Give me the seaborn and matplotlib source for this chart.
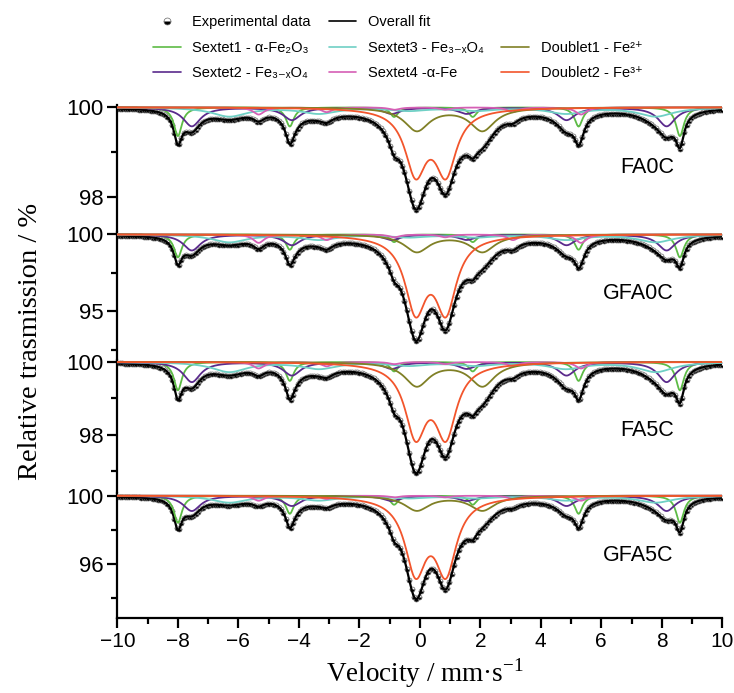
import numpy as np
import pandas as pd
import seaborn as sns
import matplotlib.pyplot as plt
from matplotlib.lines import Line2D
from matplotlib.ticker import MultipleLocator

# samples, top to bottom
samples = ["FA0C", "GFA0C", "FA5C", "GFA5C"]

# line positions (mm/s)
sextet1_pos = [-8.0, -4.3, -0.85, 1.75, 5.25, 8.6]      # a-Fe2O3
sextet2_pos = [-7.54, -4.23, -0.93, 1.55, 4.85, 8.16]   # Fe3-xO4
sextet3_pos = [-6.3, -3.33, -0.36, 1.86, 4.83, 7.8]     # Fe3-xO4
sextet4_pos = [-5.33, -3.08, -0.84, 0.84, 3.08, 5.33]   # a-Fe
doublet1_pos = [-0.1, 2.07]                             # Fe2+
doublet2_pos = [-0.14, 0.86]                            # Fe3+
sextet_ratio = [3, 2, 1, 1, 2, 3]

# line widths (FWHM, mm/s)
sextet1_w, sextet2_w, sextet3_w, sextet4_w = 0.32, 0.7, 1.4, 0.45
doublet1_w, doublet2_w = 1.0, 0.85

# depth of outer sextet line / each doublet line (%), per sample
sextet1_depth = [0.64, 1.5, 0.78, 1.6]
sextet2_depth = [0.42, 1.04, 0.55, 0.9]
sextet3_depth = [0.2, 0.5, 0.27, 0.4]
sextet4_depth = [0.16, 0.55, 0.18, 0.3]
doublet1_depth = [0.51, 1.12, 0.65, 0.86]
doublet2_depth = [1.39, 4.68, 1.9, 4.25]

# axis ranges
ylims = [(97.23, 100.05), (91.84, 100.15), (96.41, 100.05), (92.8, 100.15)]
ymajor = [2, 5, 2, 4]
yminor = [1, 2.5, 1, 2]

names = ["Sextet1 - α-Fe₂O₃",
         "Sextet2 - Fe₃₋ₓO₄",
         "Sextet3 - Fe₃₋ₓO₄",
         "Sextet4 -α-Fe",
         "Doublet1 - Fe²⁺",
         "Doublet2 - Fe³⁺"]
colors = ["#5DBB46", "#5A2A8C", "#6FD0C5", "#D55FB5", "#808026", "#F2552C"]

comps = [
    (sextet1_pos, sextet_ratio, sextet1_w, sextet1_depth),
    (sextet2_pos, sextet_ratio, sextet2_w, sextet2_depth),
    (sextet3_pos, sextet_ratio, sextet3_w, sextet3_depth),
    (sextet4_pos, sextet_ratio, sextet4_w, sextet4_depth),
    (doublet1_pos, [1, 1], doublet1_w, doublet1_depth),
    (doublet2_pos, [1, 1], doublet2_w, doublet2_depth),
]


def absorption(v, pos, ratio, w, depth):
    a = np.zeros_like(v)
    for p, r in zip(pos, ratio):
        a += depth * r / max(ratio) / (1 + (2 * (v - p) / w) ** 2)
    return a


sns.set_theme(style="ticks")
plt.rcParams["font.family"] = ["Liberation Sans", "DejaVu Sans"]
plt.rcParams["mathtext.fontset"] = "custom"
plt.rcParams["mathtext.rm"] = "Liberation Sans"
for k in ["text.color", "axes.edgecolor", "xtick.color", "ytick.color",
          "xtick.labelcolor", "ytick.labelcolor"]:
    plt.rcParams[k] = "black"

v = np.linspace(-10, 10, 801)
ch = np.linspace(-10, 10, 256)

fig = plt.figure(figsize=(7.34, 6.93), dpi=100)
gs = fig.add_gridspec(4, 1, height_ratios=[127, 128, 133, 125], hspace=0,
                      left=0.160, right=0.984, top=0.8485, bottom=0.1082)
axes = [fig.add_subplot(gs[i]) for i in range(4)]
label_y = [0.51, 0.52, 0.47, 0.5]

for i, ax in enumerate(axes):
    parts = [absorption(v, *c[:3], c[3][i]) for c in comps]
    fit = 100 - sum(parts)
    pts = 100 - sum(absorption(ch, *c[:3], c[3][i]) for c in comps)

    ax.plot(ch, pts, ls="", marker="o", ms=3.6, fillstyle="bottom",
            mfc="black", mfcalt="white", mec="#666666", mew=0.5, zorder=2)
    sns.lineplot(x=v, y=fit, ax=ax, color="black", lw=1.6, zorder=3)
    for part, col in zip(parts, colors):
        sns.lineplot(x=v, y=100 - part, ax=ax, color=col, lw=1.3, zorder=4)

    ax.set_xlim(-10, 10)
    ax.set_ylim(*ylims[i])
    ax.yaxis.set_major_locator(MultipleLocator(ymajor[i]))
    ax.yaxis.set_minor_locator(MultipleLocator(yminor[i]))
    ax.xaxis.set_major_locator(MultipleLocator(2))
    ax.xaxis.set_minor_locator(MultipleLocator(1))
    for s in ["top", "right", "bottom"]:
        ax.spines[s].set_visible(False)
    ax.spines["left"].set_linewidth(1.6)
    ax.tick_params(axis="y", which="major", length=7, width=1.6, labelsize=16, pad=3)
    ax.tick_params(axis="y", which="minor", length=4, width=1.6)
    if i < 3:
        ax.tick_params(axis="x", which="both", bottom=False, labelbottom=False)
    else:
        ax.spines["bottom"].set_visible(True)
        ax.spines["bottom"].set_linewidth(1.6)
        ax.tick_params(axis="x", which="major", length=7, width=1.6, labelsize=15, pad=3)
        ax.tick_params(axis="x", which="minor", length=4, width=1.6)
    ax.set_xlabel("")
    ax.set_ylabel("")
    ax.text(0.92, label_y[i], samples[i], transform=ax.transAxes,
            ha="right", va="center", fontsize=15.5)

fig.text(0.041, 1 - 341 / 693, "Relative trasmission / %", rotation=90,
         ha="center", va="center", fontsize=20.5, family="Liberation Serif")
fig.text(425 / 734, 1 - 673 / 693, "Velocity / mm·s$^{\\mathregular{-1}}$",
         ha="center", va="center", fontsize=19.5, family="Liberation Serif")

# legend
exp_h = Line2D([], [], ls="", marker="o", ms=5, fillstyle="bottom",
               mfc="black", mfcalt="white", mec="#666666", mew=0.5)
fit_h = Line2D([], [], color="black", lw=1.2)
blank = Line2D([], [], alpha=0)
comp_h = [Line2D([], [], color=c, lw=1.2) for c in colors]
handles = [exp_h, comp_h[0], comp_h[1], fit_h, comp_h[2], comp_h[3],
           blank, comp_h[4], comp_h[5]]
labels = ["Experimental data", names[0], names[1], "Overall fit", names[2],
          names[3], "Overall fit", names[4], names[5]]
leg = fig.legend(handles, labels, ncol=3, loc="upper left",
                 bbox_to_anchor=(140 / 734, 1 - 2 / 693), frameon=False,
                 fontsize=10.5, handlelength=1.9, handletextpad=0.8,
                 columnspacing=1.2, labelspacing=0.8)
leg.get_texts()[6].set_visible(False)

fig.savefig("out.png", dpi=100)
